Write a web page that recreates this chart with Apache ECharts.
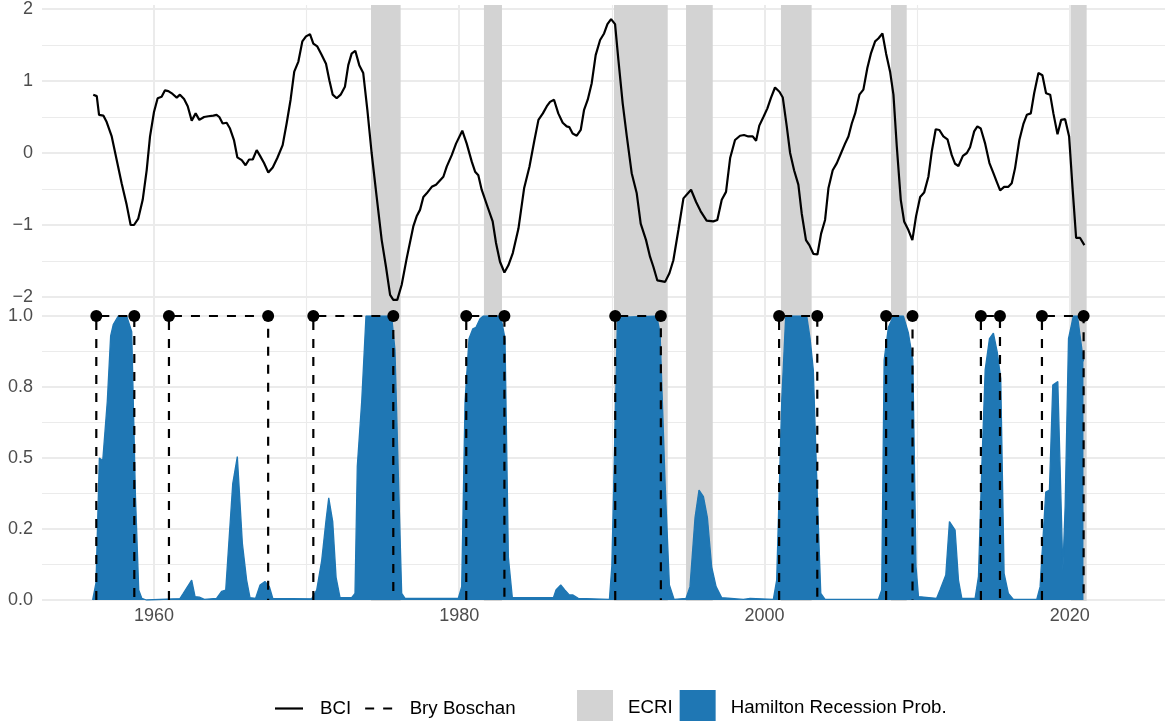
<!DOCTYPE html>
<html><head><meta charset="utf-8">
<script src="https://cdn.jsdelivr.net/npm/echarts@6/dist/echarts.min.js"></script>
<style>html,body{margin:0;padding:0;background:#fff}#c{width:1165px;height:721px}</style>
</head><body><div id="c"></div>
<script>
// ---- Data ----
const bciYear = [1956.02,1956.25,1956.40,1956.68,1956.90,1957.23,1957.56,1957.88,1958.21,1958.47,1958.69,1958.97,1959.26,1959.52,1959.74,1960.00,1960.24,1960.50,1960.72,1960.94,1961.22,1961.49,1961.70,1961.97,1962.21,1962.47,1962.73,1962.97,1963.28,1963.56,1963.89,1964.10,1964.28,1964.50,1964.76,1964.98,1965.24,1965.46,1965.75,1966.00,1966.23,1966.47,1966.73,1966.95,1967.21,1967.49,1967.78,1968.08,1968.43,1968.69,1968.95,1969.19,1969.46,1969.72,1969.96,1970.22,1970.44,1970.70,1970.99,1971.27,1971.49,1971.71,1971.97,1972.23,1972.51,1972.73,1972.95,1973.19,1973.45,1973.71,1973.98,1974.26,1974.59,1974.92,1975.20,1975.47,1975.68,1975.94,1976.23,1976.56,1976.99,1977.21,1977.43,1977.65,1977.87,1978.20,1978.48,1978.96,1979.18,1979.51,1979.79,1980.20,1980.49,1980.82,1981.04,1981.25,1981.47,1981.86,1982.19,1982.41,1982.67,1982.96,1983.22,1983.51,1983.88,1984.25,1984.60,1984.91,1985.19,1985.48,1985.74,1985.95,1986.21,1986.49,1986.78,1987.04,1987.21,1987.43,1987.70,1987.96,1988.18,1988.42,1988.68,1988.94,1989.23,1989.49,1989.71,1989.95,1990.21,1990.43,1990.71,1990.98,1991.30,1991.63,1991.89,1992.24,1992.50,1992.72,1992.98,1993.49,1993.77,1994.03,1994.36,1994.69,1995.19,1995.52,1995.82,1996.21,1996.65,1996.91,1997.20,1997.48,1997.75,1998.07,1998.40,1998.66,1998.94,1999.23,1999.45,1999.66,1999.93,2000.19,2000.43,2000.69,2000.98,2001.20,2001.46,2001.68,2001.94,2002.22,2002.44,2002.72,2002.94,2003.20,2003.47,2003.71,2003.97,2004.19,2004.47,2004.74,2005.00,2005.28,2005.50,2005.72,2005.94,2006.22,2006.48,2006.74,2006.97,2007.25,2007.46,2007.73,2007.97,2008.23,2008.45,2008.67,2008.93,2009.15,2009.43,2009.69,2009.93,2010.20,2010.46,2010.74,2010.96,2011.22,2011.46,2011.72,2011.99,2012.27,2012.49,2012.71,2013.00,2013.26,2013.47,2013.74,2013.95,2014.17,2014.46,2014.74,2015.00,2015.22,2015.44,2015.70,2015.98,2016.20,2016.42,2016.70,2016.96,2017.19,2017.45,2017.67,2017.95,2018.21,2018.45,2018.72,2018.93,2019.20,2019.44,2019.70,2019.96,2020.18,2020.42,2020.68,2020.96];
const bciValue = [0.81,0.79,0.53,0.52,0.43,0.23,-0.10,-0.42,-0.72,-1.00,-1.00,-0.91,-0.65,-0.24,0.23,0.57,0.76,0.78,0.87,0.86,0.82,0.77,0.81,0.75,0.65,0.45,0.55,0.46,0.50,0.51,0.52,0.53,0.50,0.41,0.42,0.34,0.18,-0.06,-0.10,-0.17,-0.09,-0.09,0.04,-0.04,-0.14,-0.27,-0.20,-0.07,0.11,0.41,0.74,1.13,1.27,1.55,1.62,1.65,1.52,1.48,1.36,1.24,1.01,0.81,0.76,0.81,0.92,1.22,1.38,1.42,1.22,1.11,0.60,0.00,-0.61,-1.21,-1.58,-1.97,-2.04,-2.04,-1.83,-1.46,-1.02,-0.88,-0.79,-0.61,-0.56,-0.47,-0.44,-0.33,-0.19,-0.03,0.13,0.31,0.13,-0.12,-0.26,-0.31,-0.51,-0.75,-0.95,-1.25,-1.51,-1.66,-1.56,-1.39,-1.05,-0.49,-0.19,0.16,0.46,0.55,0.65,0.71,0.74,0.55,0.42,0.37,0.36,0.27,0.24,0.32,0.60,0.74,0.97,1.36,1.57,1.66,1.79,1.86,1.79,1.29,0.69,0.23,-0.28,-0.56,-0.98,-1.21,-1.44,-1.58,-1.77,-1.79,-1.67,-1.49,-1.07,-0.63,-0.51,-0.68,-0.81,-0.94,-0.95,-0.93,-0.65,-0.54,-0.07,0.18,0.24,0.25,0.23,0.23,0.17,0.38,0.50,0.62,0.77,0.91,0.85,0.77,0.37,0.00,-0.24,-0.44,-0.84,-1.21,-1.28,-1.40,-1.41,-1.12,-0.93,-0.49,-0.24,-0.14,-0.01,0.13,0.23,0.41,0.55,0.81,0.88,1.18,1.38,1.55,1.59,1.66,1.38,1.13,0.81,0.09,-0.65,-0.95,-1.07,-1.21,-0.88,-0.61,-0.55,-0.33,0.02,0.33,0.32,0.23,0.19,-0.03,-0.15,-0.18,-0.04,0.00,0.08,0.30,0.37,0.34,0.13,-0.14,-0.28,-0.40,-0.52,-0.47,-0.47,-0.42,-0.21,0.18,0.40,0.53,0.55,0.83,1.11,1.08,0.83,0.81,0.55,0.26,0.46,0.47,0.23,-0.47,-1.18,-1.18,-1.28];

const hamYear = [1955.98,1956.20,1956.42,1956.64,1956.94,1957.16,1957.33,1957.66,1958.21,1958.54,1958.78,1959.00,1959.20,1959.50,1961.70,1961.92,1962.47,1962.69,1962.97,1963.30,1964.10,1964.43,1964.70,1965.16,1965.46,1965.79,1966.07,1966.29,1966.66,1966.95,1967.27,1967.56,1967.78,1970.33,1970.66,1970.99,1971.27,1971.45,1971.71,1971.93,1972.19,1972.95,1973.17,1973.32,1973.61,1973.89,1975.57,1975.79,1976.01,1976.23,1976.45,1979.94,1980.16,1980.38,1980.64,1980.89,1981.10,1981.36,1981.58,1982.72,1983.00,1983.22,1983.48,1986.17,1986.34,1986.65,1986.93,1987.21,1987.43,1987.80,1989.84,1990.00,1990.37,1990.43,1992.94,1993.16,1993.49,1993.77,1994.08,1994.86,1995.12,1995.45,1995.71,1996.00,1996.26,1996.54,1996.83,1997.20,1998.62,1999.06,2000.58,2000.80,2001.13,2001.39,2002.77,2002.99,2003.20,2003.47,2003.69,2003.97,2007.46,2007.68,2007.84,2008.12,2008.45,2009.10,2009.43,2009.72,2009.93,2010.09,2011.28,2011.50,2011.88,2012.12,2012.49,2012.71,2012.93,2013.80,2014.02,2014.24,2014.46,2014.74,2015.00,2015.26,2015.48,2015.70,2015.98,2016.31,2017.84,2018.06,2018.43,2018.67,2018.89,2019.22,2019.37,2019.55,2019.70,2019.92,2020.24,2020.51,2020.68,2020.90];
const hamProb = [0,0.06,0.50,0.49,0.70,0.93,0.97,1.00,1.00,0.945,0.376,0.035,0.006,0,0.005,0.023,0.07,0.012,0.01,0.002,0.006,0.03,0.035,0.41,0.505,0.20,0.07,0.008,0.006,0.053,0.065,0.047,0.006,0.004,0.035,0.14,0.28,0.36,0.276,0.08,0.008,0.008,0.023,0.47,0.70,1.00,1.00,0.88,0.44,0.023,0.006,0.006,0.047,0.70,0.92,0.955,0.96,0.99,1.00,1.00,0.92,0.15,0.008,0.008,0.035,0.053,0.035,0.018,0.018,0.006,0.002,0.12,0.995,1.00,1.00,0.94,0.41,0.053,0.002,0.006,0.047,0.29,0.387,0.364,0.29,0.117,0.047,0.008,0.002,0.006,0.002,0.07,0.70,1.00,1.00,0.92,0.81,0.35,0.023,0.002,0.002,0.035,0.845,0.96,1.00,1.00,0.94,0.845,0.117,0.012,0.006,0.035,0.088,0.276,0.246,0.07,0.006,0.006,0.082,0.47,0.81,0.92,0.94,0.87,0.78,0.094,0.023,0.002,0.002,0.047,0.38,0.387,0.757,0.769,0.47,0.106,0.33,0.92,1.00,1.00,0.93,0.84];

const bbStart = [1956.22,1960.98,1970.44,1980.46,1990.22,2000.96,2007.97,2014.18,2018.18];
const bbEnd   = [1958.71,1967.48,1975.68,1982.96,1993.21,2003.46,2009.70,2015.43,2020.91];

const ecriStart = [1974.22,1981.62,1990.14,1994.86,2001.08,2008.29,2020.08];
const ecriEnd   = [1976.16,1982.80,1993.66,1996.61,2003.09,2009.32,2021.11];

const xMajorTicks = [1960,1980,2000,2020];
const xMinorTicks = [1970,1990,2010];
const topTickValues = [-2,-1,0,1,2];
const topTickLabels = ['\u22122','\u22121','0','1','2'];
const bottomTickValues = [0,0.25,0.5,0.75,1];
const bottomTickLabels = ['0.0','0.2','0.5','0.8','1.0'];

// ---- Build ----
const X_MIN = 1952.662, X_MAX = 2026.243;
const FONT = "'Liberation Sans', Arial, sans-serif";
const GRID_COLOR = '#EBEBEB';
const BLUE = '#1F77B4', GREY = '#D3D3D3';

const bciData = bciYear.map((y, i) => [y, bciValue[i]]);
const hamData = hamYear.map((y, i) => [y, hamProb[i]]);
const bbLine = [];
const bbPoints = [];
bbStart.forEach((s, i) => {
  const e = bbEnd[i];
  bbLine.push([s, 0], [s, 1], [e, 1], [e, 0], ['-', '-']);
  bbPoints.push([s, 1], [e, 1]);
});
const ecriData = ecriStart.map((s, i) => [s, ecriEnd[i]]);

const chart = echarts.init(document.getElementById('c'), null, {renderer: 'canvas'});

const hiddenX = (gi) => ({type: 'value', gridIndex: gi, min: X_MIN, max: X_MAX, show: false});

chart.setOption({
  animation: false,
  backgroundColor: '#fff',
  textStyle: {fontFamily: FONT},
  grid: [
    {left: 42, right: 0, top: 5, bottom: 120},     // overlay: vertical gridlines + ECRI bands
    {left: 42, right: 0, top: 9, height: 288},     // BCI panel
    {left: 42, right: 0, top: 316, height: 284}    // Hamilton panel
  ],
  xAxis: [
    {type: 'value', gridIndex: 0, min: X_MIN, max: X_MAX, position: 'bottom',
     axisLine: {show: false}, axisTick: {show: false, customValues: xMajorTicks},
     axisLabel: {show: false, customValues: xMajorTicks},
     splitLine: {show: true, lineStyle: {color: GRID_COLOR, width: 2}}},
    {type: 'value', gridIndex: 0, min: X_MIN, max: X_MAX, position: 'top',
     axisLine: {show: false}, axisTick: {show: false, customValues: xMinorTicks},
     axisLabel: {show: false, customValues: xMinorTicks},
     splitLine: {show: true, lineStyle: {color: GRID_COLOR, width: 1.1}}},
    hiddenX(1),
    {type: 'value', gridIndex: 2, min: X_MIN, max: X_MAX,
     axisLine: {show: false}, axisTick: {show: false, customValues: xMajorTicks},
     axisLabel: {customValues: xMajorTicks, color: '#4D4D4D', fontSize: 18, fontFamily: FONT, margin: 7,
                 formatter: v => String(v)},
     splitLine: {show: false}}
  ],
  yAxis: [
    {type: 'value', gridIndex: 0, min: 0, max: 1, show: false},
    {type: 'value', gridIndex: 1, min: -2, max: 2, interval: 1,
     axisLine: {show: false}, axisTick: {show: false},
     axisLabel: {color: '#4D4D4D', fontSize: 18, fontFamily: FONT, margin: 9,
                 formatter: v => { const k = topTickValues.indexOf(v); return k >= 0 ? topTickLabels[k] : ''; }},
     splitLine: {show: true, lineStyle: {color: GRID_COLOR, width: 2}},
     minorTick: {show: false, splitNumber: 2},
     minorSplitLine: {show: true, lineStyle: {color: GRID_COLOR, width: 1.1}}},
    {type: 'value', gridIndex: 2, min: 0, max: 1, interval: 0.25,
     axisLine: {show: false}, axisTick: {show: false},
     axisLabel: {color: '#4D4D4D', fontSize: 18, fontFamily: FONT, margin: 9,
                 formatter: v => { const k = bottomTickValues.indexOf(v); return k >= 0 ? bottomTickLabels[k] : v.toFixed(1); }},
     splitLine: {show: true, lineStyle: {color: GRID_COLOR, width: 2}},
     minorTick: {show: false, splitNumber: 2},
     minorSplitLine: {show: true, lineStyle: {color: GRID_COLOR, width: 1.1}}}
  ],
  legend: [
    {left: 275, top: 699, padding: 0, itemWidth: 28, itemHeight: 2.2, itemGap: 14,
     textStyle: {fontSize: 18.7, color: '#000', fontFamily: FONT, padding: [0, 0, 0, 12]},
     data: [{name: 'BCI', icon: 'rect', itemStyle: {color: '#000'}},
            {name: 'Bry Boschan', icon: 'path://M0,0h9v2.2h-9z M18,0h9v2.2h-9z', itemStyle: {color: '#000'}}]},
    {left: 577, top: 690, padding: 0, itemWidth: 36, itemHeight: 36, itemGap: 7,
     textStyle: {fontSize: 18.7, color: '#000', fontFamily: FONT, padding: [0, 0, 0, 10]},
     data: [{name: 'ECRI', icon: 'rect', itemStyle: {color: GREY}},
            {name: 'Hamilton Recession Prob.', icon: 'rect', itemStyle: {color: BLUE}}]}
  ],
  series: [
    {name: 'ECRI', type: 'custom', xAxisIndex: 0, yAxisIndex: 0, z: 1,
     itemStyle: {color: GREY}, encode: {x: [0, 1]}, data: ecriData, silent: true,
     renderItem: (params, api) => {
       const a = api.coord([api.value(0), 0]);
       const b = api.coord([api.value(1), 1]);
       return {type: 'rect', shape: {x: a[0], y: b[1], width: b[0] - a[0], height: a[1] - b[1]},
               style: {fill: GREY}};
     }},
    {name: 'Hamilton Recession Prob.', type: 'line', xAxisIndex: 3, yAxisIndex: 2, z: 3,
     data: hamData, symbol: 'none', showSymbol: false, color: BLUE,
     lineStyle: {color: BLUE, width: 1.3}, areaStyle: {color: BLUE, opacity: 1}, silent: true},
    {name: 'BCI', type: 'line', xAxisIndex: 2, yAxisIndex: 1, z: 4, clip: false,
     data: bciData, symbol: 'none', showSymbol: false, color: '#000',
     lineStyle: {color: '#000', width: 2.2}, silent: true},
    {name: 'Bry Boschan', type: 'line', xAxisIndex: 3, yAxisIndex: 2, z: 5, clip: false,
     data: bbLine, symbol: 'none', showSymbol: false, connectNulls: false, color: '#000',
     lineStyle: {color: '#000', width: 2.2, type: [9, 9]}, silent: true},
    {name: 'Bry Boschan points', type: 'scatter', xAxisIndex: 3, yAxisIndex: 2, z: 6, clip: false,
     data: bbPoints, symbol: 'circle', symbolSize: 12, itemStyle: {color: '#000', opacity: 1}, silent: true}
  ]
});
</script></body></html>
